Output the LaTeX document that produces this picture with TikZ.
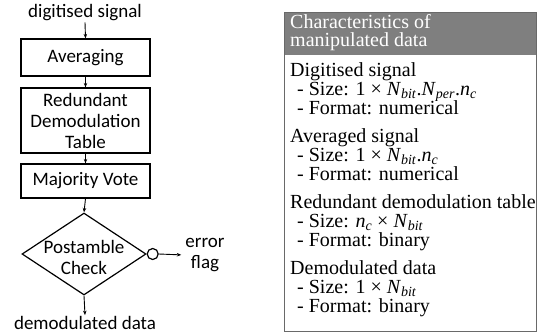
\documentclass[tikz,border=0pt]{standalone}
\usepackage{fontspec}
\setmainfont{Liberation Serif}
\newfontfamily\calfont{Carlito}
\usetikzlibrary{arrows.meta,shapes.geometric}
\definecolor{hdrgray}{RGB}{127,127,127}
\definecolor{bordergray}{RGB}{105,105,105}
\newcommand\mvar[2]{\textit{#1}\smash{\textsubscript{\textit{#2}}}}
\begin{document}
\begin{tikzpicture}[x=1pt,y=-1pt,
  flow/.style={draw=black, line width=1.2pt, font=\calfont\fontsize{19}{21}\selectfont, align=center, inner sep=0},
  arr/.style={-{Stealth[length=4.5pt,width=3.5pt]}, line width=0.9pt},
  lbl/.style={font=\calfont\fontsize{19}{21}\selectfont, align=center, inner sep=1pt},
  ptext/.style={anchor=base west, inner sep=0, font=\fontsize{20}{22}\selectfont},
]
\useasboundingbox (0,0) rectangle (541,335);
% flowchart
\node[lbl] (in) at (85,13) {digitised signal};
\node[flow, minimum width=129pt, minimum height=37pt] (avg) at (85.5,57.5) {Averaging};
\node[flow, minimum width=129pt, minimum height=65pt] (rdt) at (85.5,120.5) {Redundant\\Demodulation\\Table};
\node[flow, minimum width=129pt, minimum height=34pt] (mv) at (85.5,181) {Majority Vote};
\node[draw, line width=1.2pt, diamond, minimum width=124pt, minimum height=82pt, inner sep=0] (chk) at (84,254) {};
\node[lbl] (chkt) at (84,257) {Postamble\\Check};
\node[circle, draw, line width=1.2pt, minimum size=11pt, inner sep=0, anchor=west, fill=white] (circ) at (chk.east) {};
\node[lbl] (ef) at (205,255) {error\\flag};
\node[lbl] (out) at (85,323) {demodulated data};
\draw[arr] (in.south) -- (avg.north);
\draw[arr] (avg.south) -- (rdt.north);
\draw[arr] (rdt.south) -- (mv.north);
\draw[arr] (mv.south) -- (chk.north);
\draw[arr] (chk.south) -- (out.north);
\draw[arr, shorten >=3pt] (circ.east) -- (ef.west);
% right panel
\node[fill=hdrgray, minimum width=252pt, minimum height=43pt, anchor=north west, inner sep=0] (hdr) at (284,12) {};
\node[draw=bordergray, line width=1.2pt, minimum width=252pt, minimum height=319pt, anchor=north west, inner sep=0] (panel) at (284,12) {};
\node[ptext, text=white] (h1) at (290,28) {Characteristics of};
\node[ptext, text=white] (h2) at (290,46) {manipulated data};
\node[ptext] (t1) at (290,76) {Digitised signal};
\node[ptext] (t2) at (297,95) {- Size: 1 \texttimes{} \mvar{N}{bit}.\mvar{N}{per}.\mvar{n}{c}};
\node[ptext] (t3) at (297,114) {- Format: numerical};
\node[ptext] (t4) at (290,142) {Averaged signal};
\node[ptext] (t5) at (297,161) {- Size: 1 \texttimes{} \mvar{N}{bit}.\mvar{n}{c}};
\node[ptext] (t6) at (297,180) {- Format: numerical};
\node[ptext] (t7) at (290,208) {Redundant demodulation table};
\node[ptext] (t8) at (297,227) {- Size: \mvar{n}{c} \texttimes{} \mvar{N}{bit}};
\node[ptext] (t9) at (297,246) {- Format: binary};
\node[ptext] (t10) at (290,274) {Demodulated data};
\node[ptext] (t11) at (297,293) {- Size: 1 \texttimes{} \mvar{N}{bit}};
\node[ptext] (t12) at (297,312) {- Format: binary};
\end{tikzpicture}
\end{document}
